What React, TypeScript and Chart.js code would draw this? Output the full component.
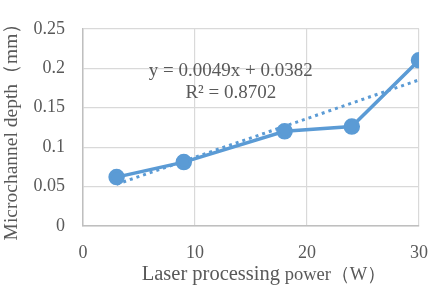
import React, { useEffect, useRef } from "react";
import { Chart, registerables } from "chart.js";

Chart.register(...registerables);

const powerW = [3, 9, 18, 24, 30];
const depthMm = [0.062, 0.081, 0.12, 0.126, 0.21];
const trendX = [3, 30];
const trendY = [0.0529, 0.1852];
const xTicks = [0, 10, 20, 30];
const yTicks = [0, 0.05, 0.1, 0.15, 0.2, 0.25];
const equationLines = ["y = 0.0049x + 0.0382", "R² = 0.8702"];
const equationAnchor = { x: 13.2, y: 0.196 };
const xTitleParts = ["Laser processing", " power（W）"];
const yTitle = "Microchannel depth（mm）";

const FONT = "'Liberation Serif', 'Times New Roman', serif";
const BLUE = "#5b9bd5";
const GRID = "#d9d9d9";
const TEXT = "#595959";

const textPlugin = {
  id: "texts",
  afterDraw(chart: any) {
    const { ctx, scales, chartArea } = chart;
    ctx.save();
    ctx.fillStyle = TEXT;
    // equation
    const cx = scales.x.getPixelForValue(equationAnchor.x);
    const cy = scales.y.getPixelForValue(equationAnchor.y);
    ctx.font = `19px ${FONT}`;
    ctx.textAlign = "center";
    ctx.textBaseline = "middle";
    equationLines.forEach((line, i) => {
      ctx.fillText(line, cx, cy + i * 22);
    });
    // x title (two sizes)
    const sizes = [20.5, 18.5];
    const widths = xTitleParts.map((t, i) => {
      ctx.font = `${sizes[i]}px ${FONT}`;
      return ctx.measureText(t).width;
    });
    const total = widths[0] + widths[1];
    let x = (chartArea.left + chartArea.right) / 2 + 13 - total / 2;
    ctx.textAlign = "left";
    ctx.textBaseline = "alphabetic";
    xTitleParts.forEach((t, i) => {
      ctx.font = `${sizes[i]}px ${FONT}`;
      ctx.fillText(t, x, 280);
      x += widths[i];
    });
    // y title
    ctx.translate(12, 127);
    ctx.rotate(-Math.PI / 2);
    ctx.font = `19.5px ${FONT}`;
    ctx.textAlign = "center";
    ctx.textBaseline = "middle";
    ctx.fillText(yTitle, 0, 0);
    ctx.restore();
  },
};

export default function App() {
  const ref = useRef<HTMLCanvasElement>(null);
  useEffect(() => {
    document.body.style.margin = "0";
    const chart = new Chart(ref.current as HTMLCanvasElement, {
      type: "scatter",
      data: {
        datasets: [
          {
            data: powerW.map((x, i) => ({ x, y: depthMm[i] })),
            showLine: true,
            borderColor: BLUE,
            backgroundColor: BLUE,
            borderWidth: 3.5,
            pointRadius: 6.5,
            pointHoverRadius: 6.5,
            order: 1,
          },
          {
            data: trendX.map((x, i) => ({ x, y: trendY[i] })),
            showLine: true,
            borderColor: BLUE,
            borderWidth: 3,
            borderDash: [3, 4],
            pointRadius: 0,
            order: 2,
          },
        ],
      },
      options: {
        animation: false,
        responsive: false,
        layout: { padding: { top: 12, right: 14, left: 0, bottom: 0 } },
        plugins: { legend: { display: false }, tooltip: { enabled: false } },
        scales: {
          x: {
            type: "linear",
            min: 0,
            max: 30,
            afterBuildTicks: (s: any) => {
              s.ticks = xTicks.map((v) => ({ value: v }));
            },
            afterFit: (s: any) => {
              s.height = 62;
            },
            grid: { color: GRID, lineWidth: 1.2, drawTicks: false },
            border: { color: "#bfbfbf", width: 1.5 },
            ticks: { padding: 16, color: TEXT, font: { family: FONT, size: 18 } },
          },
          y: {
            min: 0,
            max: 0.25,
            afterBuildTicks: (s: any) => {
              s.ticks = yTicks.map((v) => ({ value: v }));
            },
            afterFit: (s: any) => {
              s.width = 83;
            },
            grid: { color: GRID, lineWidth: 1.2, drawTicks: false },
            border: { color: "#bfbfbf", width: 1.5 },
            ticks: {
              padding: 18,
              color: TEXT,
              font: { family: FONT, size: 18 },
              callback: (v: any) => String(Number(v)),
            },
          },
        },
      },
      plugins: [textPlugin],
    } as any);
    return () => chart.destroy();
  }, []);
  return (
    <div style={{ position: "fixed", left: 0, top: 0, width: 444, height: 288, background: "#fff" }}>
      <canvas ref={ref} width={444} height={288} />
    </div>
  );
}
